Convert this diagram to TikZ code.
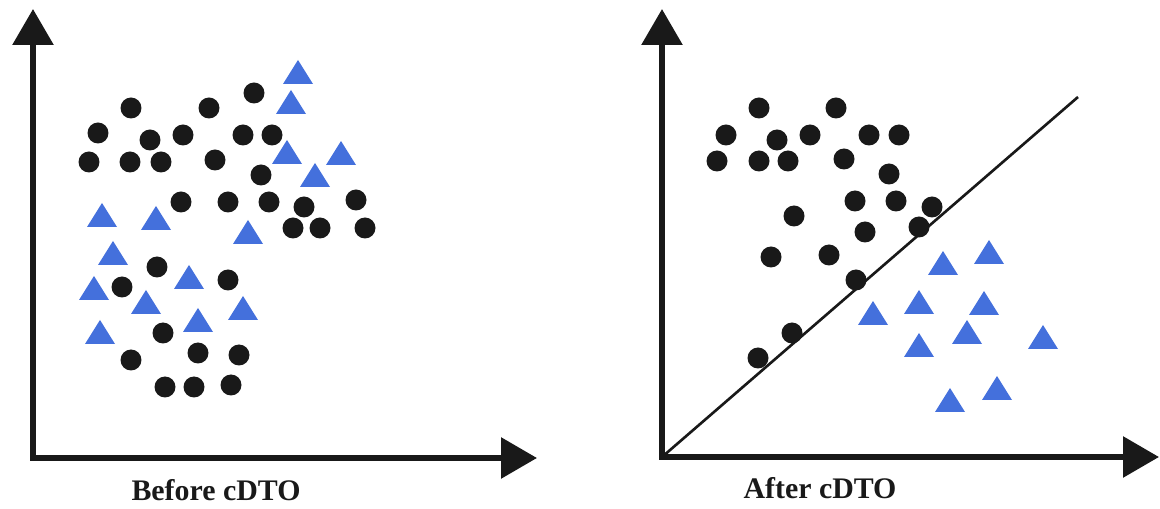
\documentclass[tikz,border=0pt]{standalone}
\usepackage{fontspec}
\setmainfont{Liberation Serif}
\usetikzlibrary{arrows.meta}
\tikzset{>={Triangle[length=0.72cm,width=0.8cm]}}
\definecolor{triblue}{RGB}{68,112,220}

\begin{document}
\begin{tikzpicture}[x=0.02cm,y=-0.02cm]
  % limits
  \useasboundingbox (0,0) rectangle (1160,509);
  \def\tw{15}   % half width of triangle
  \def\th{12}   % half height of triangle
  \def\lw{3.4pt} % axis width

  % help functions

        % black data dot
  \def\dotAt(#1,#2){\fill[black!90] (#1,#2) circle[radius=0.21cm];}
        % blue data triangle
  \def\triAt(#1,#2){\fill[triblue] (#1-\tw,#2+\th) -- (#1+\tw,#2+\th) -- (#1,#2-\th) -- cycle;}

  % axes
  \coordinate (oBefore) at (33,458);
  \coordinate (yBefore) at (33,9);
  \coordinate (xBefore) at (537,458);
  \coordinate (oAfter) at (662,457);
  \coordinate (yAfter) at (662,9);
  \coordinate (xAfter) at (1159,457);
  \draw[<->,line width=\lw,black!90,line join=miter] (yBefore) -- (oBefore) -- (xBefore);
  \draw[<->,line width=\lw,black!90,line join=miter] (yAfter) -- (oAfter) -- (xAfter);

  % separating line
  \coordinate (sepEnd) at (1078,97);
  \draw[line width=1.5pt,black!90] (oAfter) -- (sepEnd);

  % BEFORE
  \foreach \x/\y in {131/108,209/108,254/93,
      98/133,150/140,183/135,243/135,272/135,
      89/162,130/162,161/162,215/160,261/175,
      181/202,228/202,269/202,304/207,356/200,
      293/228,320/228,365/228,
      157/267,122/287,228/280,163/333,
      131/360,198/353,239/355,
      165/387,194/387,231/385}{\dotAt(\x,\y)}
  \foreach \x/\y in {298/72,291/102,287/152,341/153,315/175,
      102/215,156/218,248/232,113/253,189/277,
      94/288,146/302,243/308,198/320,100/332}{\triAt(\x,\y)}

  % AFTER
  \foreach \x/\y in {759/108,836/108,726/135,777/140,810/135,869/135,899/135,
      717/161,759/161,788/161,844/159,889/174,
      855/201,896/201,932/207,794/216,919/227,865/232,
      771/257,829/255,856/280,792/333,758/358}{\dotAt(\x,\y)}
  \foreach \x/\y in {989/252,943/263,919/302,984/303,873/313,
      967/332,919/345,1043/337,997/388,950/400}{\triAt(\x,\y)}

  % LABELS
  \node[font=\fontsize{17}{20}\selectfont\bfseries,black!90] (before) at (216,490) {Before cDTO};
  \node[font=\fontsize{17}{20}\selectfont\bfseries,black!90] (after) at (820,488) {After cDTO};

\end{tikzpicture}
\end{document}
